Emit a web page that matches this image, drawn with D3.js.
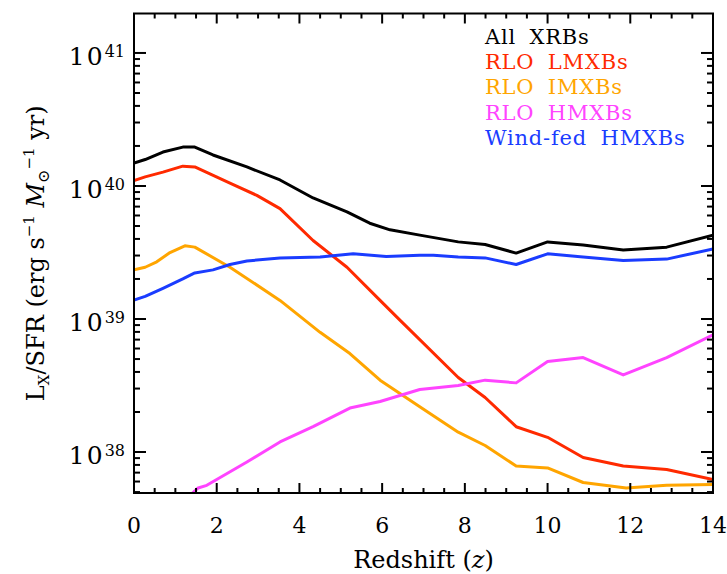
<!DOCTYPE html>
<html>
<head>
<meta charset="utf-8">
<script src="https://cdn.jsdelivr.net/npm/d3@7"></script>
<style>
  body { margin: 0; background: #fff; }
  svg { display: block; }
</style>
</head>
<body>
<svg id="chart" width="727" height="574"></svg>
<script>
// redshift samples and Lx/SFR (erg s^-1 Msun^-1 yr)
const zAll = [0, 0.27, 0.7, 1.18, 1.47, 1.91, 2.73, 3.53, 4.33, 5.15, 5.7, 6.19, 6.91, 7.84, 8.49, 9.24, 10.0, 10.86, 11.83, 12.88, 14];
const allXRBs = [1.49e40, 1.58e40, 1.80e40, 1.96e40, 1.96e40, 1.71e40, 1.39e40, 1.11e40, 8.13e39, 6.38e39, 5.25e39, 4.68e39, 4.27e39, 3.80e39, 3.63e39, 3.13e39, 3.80e39, 3.60e39, 3.30e39, 3.47e39, 4.27e39];

const zLM = [0, 0.27, 0.7, 1.18, 1.47, 2.32, 2.97, 3.53, 4.33, 5.15, 5.95, 6.43, 7.84, 8.49, 9.24, 10.0, 10.86, 11.83, 12.88, 14];
const rloLMXBs = [1.10e40, 1.17e40, 1.27e40, 1.41e40, 1.39e40, 1.05e40, 8.5e39, 6.76e39, 3.89e39, 2.45e39, 1.38e39, 9.8e38, 3.63e38, 2.57e38, 1.55e38, 1.29e38, 9.1e37, 7.85e37, 7.4e37, 6.2e37];

const zIM = [0, 0.27, 0.55, 0.87, 1.23, 1.47, 2.32, 3.53, 4.5, 5.22, 5.95, 6.91, 7.84, 8.49, 9.24, 10.0, 10.86, 11.9, 12.88, 14];
const rloIMXBs = [2.34e39, 2.45e39, 2.69e39, 3.16e39, 3.55e39, 3.47e39, 2.45e39, 1.38e39, 7.94e38, 5.5e38, 3.47e38, 2.19e38, 1.41e38, 1.12e38, 7.85e37, 7.6e37, 5.9e37, 5.37e37, 5.62e37, 5.69e37];

const zHM = [1.38, 1.55, 1.76, 2.73, 3.53, 4.33, 5.22, 5.95, 6.91, 7.84, 8.49, 9.24, 10.0, 10.86, 11.83, 12.88, 14];
const rloHMXBs = [4.8e37, 5.37e37, 5.62e37, 8.41e37, 1.19e38, 1.55e38, 2.14e38, 2.40e38, 2.95e38, 3.16e38, 3.47e38, 3.31e38, 4.79e38, 5.13e38, 3.80e38, 5.13e38, 7.59e38];

const zWind = [0, 0.27, 0.7, 1.18, 1.47, 1.91, 2.32, 2.73, 3.53, 4.5, 5.3, 6.1, 6.91, 7.24, 7.84, 8.49, 9.24, 10.0, 10.86, 11.83, 12.88, 14];
const windHMXBs = [1.39e39, 1.48e39, 1.70e39, 2.0e39, 2.22e39, 2.34e39, 2.57e39, 2.73e39, 2.88e39, 2.92e39, 3.09e39, 2.95e39, 3.02e39, 3.02e39, 2.92e39, 2.88e39, 2.57e39, 3.09e39, 2.92e39, 2.75e39, 2.82e39, 3.36e39];

const seriesNames = ['All XRBs', 'RLO LMXBs', 'RLO IMXBs', 'RLO HMXBs', 'Wind-fed HMXBs'];
const seriesColors = ['#000000', '#ff2a00', '#ffa500', '#ff44ff', '#1a3cff'];

const xTicks = [0, 2, 4, 6, 8, 10, 12, 14];
const yDecades = [38, 39, 40, 41];

const svg = d3.select('#chart');
const box = {left: 134, right: 713, top: 13.5, bottom: 493};

const x = d3.scaleLinear().domain([0, 14]).range([box.left, box.right]);
const y = d3.scaleLog().domain([4.92e37, 1.98e41]).range([box.bottom, box.top]);

svg.append('defs').append('clipPath').attr('id', 'plotclip')
    .append('rect')
    .attr('x', box.left).attr('y', box.top)
    .attr('width', box.right - box.left).attr('height', box.bottom - box.top);

// lines
const series = [
    {z: zAll, v: allXRBs},
    {z: zLM, v: rloLMXBs},
    {z: zIM, v: rloIMXBs},
    {z: zHM, v: rloHMXBs},
    {z: zWind, v: windHMXBs}
];
const line = d3.line()
    .x(function (d) { return x(d[0]); })
    .y(function (d) { return y(d[1]); });

const lineG = svg.append('g').attr('clip-path', 'url(#plotclip)');
series.forEach(function (s, i) {
    lineG.append('path')
        .attr('d', line(d3.zip(s.z, s.v)))
        .attr('fill', 'none')
        .attr('stroke', seriesColors[i])
        .attr('stroke-width', 3)
        .attr('stroke-linejoin', 'round');
});

// frame
svg.append('rect')
    .attr('x', box.left).attr('y', box.top)
    .attr('width', box.right - box.left).attr('height', box.bottom - box.top)
    .attr('fill', 'none').attr('stroke', '#000').attr('stroke-width', 2);

// x ticks (bottom and top), minor every 0.5
const xMinor = d3.range(0, 14.01, 0.5).filter(function (d) { return d % 2 !== 0; });
const tickG = svg.append('g').attr('stroke', '#000').attr('stroke-width', 2);
function xTick(vals, len) {
    vals.forEach(function (d) {
        tickG.append('line').attr('x1', x(d)).attr('x2', x(d))
            .attr('y1', box.bottom).attr('y2', box.bottom - len);
        tickG.append('line').attr('x1', x(d)).attr('x2', x(d))
            .attr('y1', box.top).attr('y2', box.top + len);
    });
}
xTick(xTicks, 10);
xTick(xMinor, 5);

// y ticks, log minor
const yMajor = yDecades.map(function (e) { return Math.pow(10, e); });
const yMinor = [];
[37, 38, 39, 40, 41].forEach(function (e) {
    for (let m = 2; m <= 9; m++) {
        const v = m * Math.pow(10, e);
        if (v >= y.domain()[0] && v <= y.domain()[1]) yMinor.push(v);
    }
});
function yTick(vals, len) {
    vals.forEach(function (d) {
        tickG.append('line').attr('y1', y(d)).attr('y2', y(d))
            .attr('x1', box.left).attr('x2', box.left + len);
        tickG.append('line').attr('y1', y(d)).attr('y2', y(d))
            .attr('x1', box.right).attr('x2', box.right - len);
    });
}
yTick(yMajor, 12);
yTick(yMinor, 6);

const serif = 'DejaVu Serif';

// x tick labels
svg.append('g').selectAll('text').data(xTicks).enter().append('text')
    .attr('x', function (d) { return x(d); })
    .attr('y', 533)
    .attr('text-anchor', 'middle')
    .attr('font-family', serif).attr('font-size', 22)
    .text(function (d) { return d; });

// y tick labels 10^n
svg.append('g').selectAll('text').data(yDecades).enter().append('text')
    .attr('x', 125)
    .attr('y', function (d) { return y(Math.pow(10, d)) + 12; })
    .attr('text-anchor', 'end')
    .attr('font-family', serif).attr('font-size', 25)
    .each(function (d) {
        const t = d3.select(this);
        t.append('tspan').text('10').attr('letter-spacing', 2);
        t.append('tspan').attr('dy', -8).attr('font-size', 16).text(d);
    });

// axis titles
svg.append('text')
    .attr('x', (box.left + box.right) / 2).attr('y', 568)
    .attr('text-anchor', 'middle')
    .attr('font-family', serif).attr('font-size', 24)
    .each(function () {
        const t = d3.select(this);
        t.append('tspan').text('Redshift (');
        t.append('tspan').attr('font-style', 'italic').text('z');
        t.append('tspan').text(')');
    });

svg.append('text')
    .attr('transform', 'translate(44,' + ((box.top + box.bottom) / 2) + ') rotate(-90)')
    .attr('text-anchor', 'middle')
    .attr('font-family', serif).attr('font-size', 24)
    .each(function () {
        const t = d3.select(this);
        t.append('tspan').text('L');
        t.append('tspan').attr('font-size', 15).attr('dy', 5).text('X');
        t.append('tspan').attr('dy', -5).text('/SFR (erg s');
        t.append('tspan').attr('font-size', 15).attr('dy', -10).text('\u22121');
        t.append('tspan').attr('dy', 10).text(' ');
        t.append('tspan').attr('font-style', 'italic').text('M');
        t.append('tspan').attr('font-size', 16).attr('dy', 5).text('\u2299');
        t.append('tspan').attr('font-size', 15).attr('dy', -15).text('\u22121');
        t.append('tspan').attr('dy', 10).text(' yr)');
    });

// legend
svg.append('g').selectAll('text').data(seriesNames).enter().append('text')
    .attr('x', 485)
    .attr('y', function (d, i) { return 43.5 + i * 25.4; })
    .attr('font-family', serif).attr('font-size', 21)
    .attr('letter-spacing', 0.8)
    .attr('word-spacing', 6)
    .attr('fill', function (d, i) { return seriesColors[i]; })
    .text(function (d) { return d; });
</script>
</body>
</html>
